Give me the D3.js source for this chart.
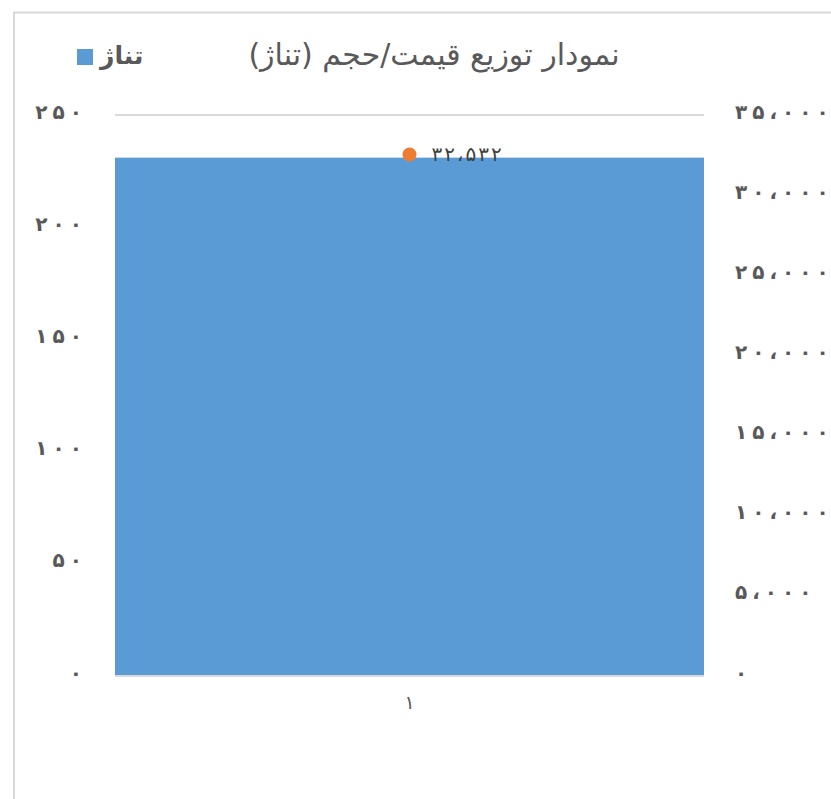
<!DOCTYPE html>
<html>
<head>
<meta charset="utf-8">
<script src="https://cdn.jsdelivr.net/npm/d3@7"></script>
<style>
  body { margin: 0; background: #fff; }
  svg { display: block; font-family: "DejaVu Sans", sans-serif; }
</style>
</head>
<body>
<svg id="chart"></svg>
<script>
// chart data
const categories = ["1"];
const tonnage = [231];          // bars, left axis
const price = [32532];          // orange point, right axis
const leftTicks = [0, 50, 100, 150, 200, 250];
const rightTicks = [0, 5000, 10000, 15000, 20000, 25000, 30000, 35000];
const titleText = "نمودار توزیع قیمت/حجم (تناژ)";
const legendText = "تناژ";

const width = 831, height = 799;
const margin = { top: 115, right: 127, bottom: 123, left: 115 };

const fa = d3.formatLocale({
  decimal: "٫",
  thousands: "،",
  grouping: [3],
  currency: ["", ""],
  numerals: ["۰", "۱", "۲", "۳", "۴", "۵", "۶", "۷", "۸", "۹"]
});
const fmt = fa.format(",d");

// per-glyph gaps, letter-spacing is ignored for arabic digits
const spread = gap => function() {
  const n = this.textContent.length;
  return d3.range(n).map(i => (i ? gap : 0)).join(" ");
};

const svg = d3.select("#chart")
  .attr("width", width)
  .attr("height", height);

// chart area border
svg.append("rect")
  .attr("x", 14).attr("y", 12.5)
  .attr("width", 900).attr("height", 900)
  .attr("fill", "none")
  .attr("stroke", "#d9d9d9")
  .attr("stroke-width", 2);

const x = d3.scaleBand()
  .domain(categories)
  .range([margin.left, width - margin.right])
  .padding(0);

const yLeft = d3.scaleLinear()
  .domain([0, 250])
  .range([height - margin.bottom, margin.top]);

const yRight = d3.scaleLinear()
  .domain([0, 35000])
  .range([height - margin.bottom, margin.top]);

// gridlines
svg.append("g")
  .selectAll("line")
  .data(leftTicks.slice(1))
  .join("line")
  .attr("x1", margin.left)
  .attr("x2", width - margin.right)
  .attr("y1", d => yLeft(d))
  .attr("y2", d => yLeft(d))
  .attr("stroke", "#d9d9d9")
  .attr("stroke-width", 2);

// bars
svg.append("g")
  .selectAll("rect")
  .data(tonnage)
  .join("rect")
  .attr("x", (d, i) => x(categories[i]))
  .attr("width", x.bandwidth())
  .attr("y", d => yLeft(d))
  .attr("height", d => yLeft(0) - yLeft(d))
  .attr("fill", "#5b9bd5");

// baseline
svg.append("line")
  .attr("x1", margin.left)
  .attr("x2", width - margin.right)
  .attr("y1", yLeft(0))
  .attr("y2", yLeft(0))
  .attr("stroke", "#d9d9d9")
  .attr("stroke-width", 2);

// left axis
const leftAxis = d3.axisLeft(yLeft)
  .tickValues(leftTicks)
  .tickFormat(fmt)
  .tickSize(0)
  .tickPadding(33);
const gl = svg.append("g")
  .attr("transform", `translate(${margin.left},0)`)
  .call(leftAxis);
gl.select(".domain").remove();
gl.selectAll("text")
  .attr("font-size", 20)
  .attr("font-weight", "bold")
  .attr("fill", "#595959")
  .attr("dx", spread(5))
  .attr("dy", "0.15em")
  .attr("font-family", "DejaVu Sans, sans-serif");

// right axis
const rightAxis = d3.axisRight(yRight)
  .tickValues(rightTicks)
  .tickFormat(fmt)
  .tickSize(0)
  .tickPadding(31);
const gr = svg.append("g")
  .attr("transform", `translate(${width - margin.right},0)`)
  .call(rightAxis);
gr.select(".domain").remove();
gr.selectAll("text")
  .attr("font-size", 20)
  .attr("font-weight", "bold")
  .attr("fill", "#595959")
  .attr("dx", spread(5))
  .attr("dy", "0.15em")
  .attr("font-family", "DejaVu Sans, sans-serif");

// category axis
svg.append("g")
  .selectAll("text")
  .data(categories)
  .join("text")
  .attr("x", d => x(d) + x.bandwidth() / 2)
  .attr("y", yLeft(0) + 33)
  .attr("text-anchor", "middle")
  .attr("font-size", 19)
  .attr("fill", "#595959")
  .text(d => fmt(+d));

// price point + label
const pts = svg.append("g");
pts.selectAll("circle")
  .data(price)
  .join("circle")
  .attr("cx", (d, i) => x(categories[i]) + x.bandwidth() / 2)
  .attr("cy", d => yRight(d))
  .attr("r", 7)
  .attr("fill", "#ed7d31");
pts.selectAll("text")
  .data(price)
  .join("text")
  .attr("x", (d, i) => x(categories[i]) + x.bandwidth() / 2 + 22)
  .attr("y", d => yRight(d))
  .attr("dy", "0.3em")
  .attr("font-size", 20)
  .attr("fill", "#404040")
  .text(d => fmt(d))
  .attr("dx", spread(2));

// title
svg.append("text")
  .attr("x", 434)
  .attr("y", 54)
  .attr("dy", "0.35em")
  .attr("text-anchor", "middle")
  .attr("direction", "rtl")
  .attr("font-size", 30)
  .attr("fill", "#595959")
  .text(titleText);

// legend
svg.append("rect")
  .attr("x", 77).attr("y", 49)
  .attr("width", 16).attr("height", 16)
  .attr("fill", "#5b9bd5");
svg.append("text")
  .attr("x", 100)
  .attr("y", 55)
  .attr("dy", "0.35em")
  .attr("text-anchor", "start")
  .attr("font-size", 25)
  .attr("font-weight", "bold")
  .attr("fill", "#595959")
  .text(legendText);
</script>
</body>
</html>
